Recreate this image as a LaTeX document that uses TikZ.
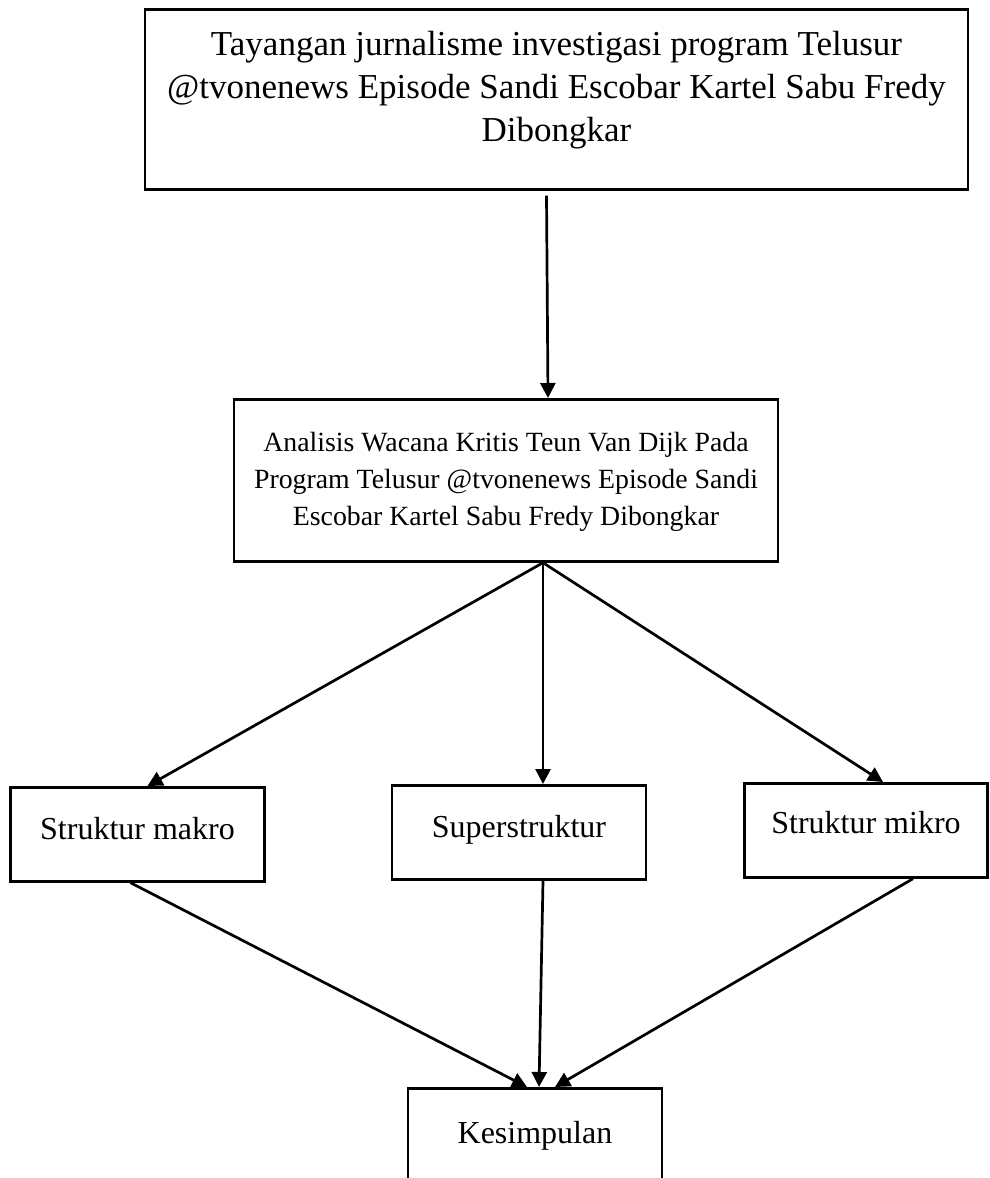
\documentclass[tikz,border=0pt]{standalone}
\usepackage{fontspec}
\setmainfont{Liberation Serif}
\usetikzlibrary{arrows.meta}
\begin{document}
\begin{tikzpicture}[x=1pt, y=-1pt, >={Triangle[length=15pt,width=15pt]}, line width=2.7pt,
    kotak/.style={draw, rectangle, inner sep=0pt, anchor=north, align=center},
    kecil/.style={kotak, minimum width=254pt, text height=52pt, text depth=42pt, font=\fontsize{32}{38}\selectfont}]
    \useasboundingbox (0,0) rectangle (990,1178);
    \node (tayangan) [kotak, minimum width=823pt, text height=132pt, text depth=48pt, font=\fontsize{35}{43}\selectfont] at (556.5,8) {Tayangan jurnalisme investigasi program Telusur\\@tvonenews Episode Sandi Escobar Kartel Sabu Fredy\\Dibongkar};
    \node (analisis) [kotak, minimum width=544pt, text height=126pt, text depth=36pt, font=\fontsize{27.8}{37}\selectfont] at (506,398) {Analisis Wacana Kritis Teun Van Dijk Pada\\Program Telusur @tvonenews Episode Sandi\\Escobar Kartel Sabu Fredy Dibongkar};
    \node (makro) [kecil] at (137.5,786) {Struktur makro};
    \node (super) [kecil] at (519,784) {Superstruktur};
    \node (mikro) [kecil, minimum width=243pt, text height=50pt, text depth=44pt] at (866,782) {Struktur mikro};
    \node (simpulan) [kecil, text height=55pt, text depth=80pt] at (535,1087) {Kesimpulan};
    \draw[->] ([xshift=-10pt, yshift=-5pt]tayangan.south) -- ([xshift=42pt]analisis.north);
    \draw[->] ([xshift=37pt]analisis.south) -- ([xshift=10pt]makro.north);
    \draw[->] ([xshift=37pt]analisis.south) -- ([xshift=24pt]super.north);
    \draw[->] ([xshift=37pt]analisis.south) -- ([xshift=17pt]mikro.north);
    \draw[->] ([xshift=-7pt]makro.south) -- ([xshift=-8pt]simpulan.north);
    \draw[->] ([xshift=24pt]super.south) -- ([xshift=4pt]simpulan.north);
    \draw[->] ([xshift=47pt]mikro.south) -- ([xshift=20pt]simpulan.north);
\end{tikzpicture}
\end{document}
